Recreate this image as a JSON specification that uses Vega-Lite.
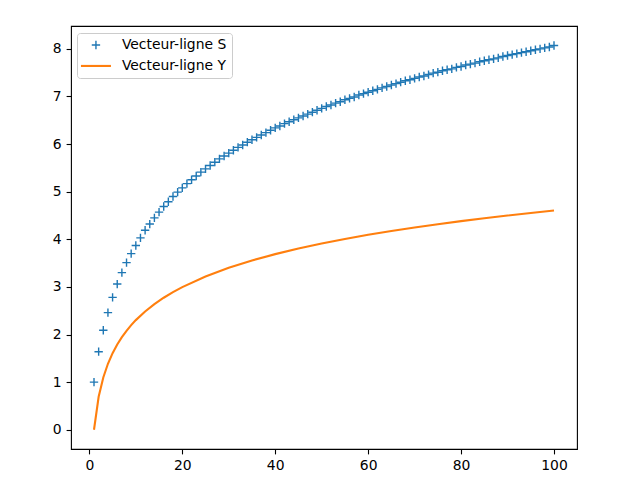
{
  "$schema": "https://vega.github.io/schema/vega-lite/v6.json",
  "width": 506,
  "height": 423,
  "autosize": {"type": "none"},
  "padding": {"left": 71, "top": 26, "right": 63, "bottom": 31},
  "config": {
    "font": "DejaVu Sans",
    "view": {"stroke": "black", "strokeWidth": 1.1},
    "axis": {
      "grid": false,
      "domain": false,
      "tickColor": "black",
      "tickSize": 4.9,
      "tickWidth": 1.1,
      "labelFont": "DejaVu Sans",
      "labelFontSize": 13.9,
      "labelColor": "black",
      "labelPadding": 4.9,
      "title": null
    },
    "legend": {
      "orient": "none",
      "legendX": 6,
      "legendY": 7,
      "padding": 5,
      "strokeColor": "#cccccc",
      "fillColor": "rgba(255,255,255,0.8)",
      "cornerRadius": 3,
      "labelFont": "DejaVu Sans",
      "labelFontSize": 13.9,
      "labelColor": "black",
      "symbolOffset": 7,
      "labelOffset": 19,
      "rowPadding": 6
    }
  },
  "datasets": {
    "S": [
      {"n": 1, "v": 1.0, "serie": "Vecteur-ligne S"},
      {"n": 2, "v": 1.64, "serie": "Vecteur-ligne S"},
      {"n": 3, "v": 2.09, "serie": "Vecteur-ligne S"},
      {"n": 4, "v": 2.46, "serie": "Vecteur-ligne S"},
      {"n": 5, "v": 2.78, "serie": "Vecteur-ligne S"},
      {"n": 6, "v": 3.06, "serie": "Vecteur-ligne S"},
      {"n": 7, "v": 3.3, "serie": "Vecteur-ligne S"},
      {"n": 8, "v": 3.51, "serie": "Vecteur-ligne S"},
      {"n": 9, "v": 3.7, "serie": "Vecteur-ligne S"},
      {"n": 10, "v": 3.87, "serie": "Vecteur-ligne S"},
      {"n": 11, "v": 4.03, "serie": "Vecteur-ligne S"},
      {"n": 12, "v": 4.19, "serie": "Vecteur-ligne S"},
      {"n": 13, "v": 4.32, "serie": "Vecteur-ligne S"},
      {"n": 14, "v": 4.45, "serie": "Vecteur-ligne S"},
      {"n": 15, "v": 4.57, "serie": "Vecteur-ligne S"},
      {"n": 16, "v": 4.69, "serie": "Vecteur-ligne S"},
      {"n": 17, "v": 4.79, "serie": "Vecteur-ligne S"},
      {"n": 18, "v": 4.9, "serie": "Vecteur-ligne S"},
      {"n": 19, "v": 4.99, "serie": "Vecteur-ligne S"},
      {"n": 20, "v": 5.08, "serie": "Vecteur-ligne S"},
      {"n": 21, "v": 5.17, "serie": "Vecteur-ligne S"},
      {"n": 22, "v": 5.25, "serie": "Vecteur-ligne S"},
      {"n": 23, "v": 5.33, "serie": "Vecteur-ligne S"},
      {"n": 24, "v": 5.41, "serie": "Vecteur-ligne S"},
      {"n": 25, "v": 5.48, "serie": "Vecteur-ligne S"},
      {"n": 26, "v": 5.55, "serie": "Vecteur-ligne S"},
      {"n": 27, "v": 5.62, "serie": "Vecteur-ligne S"},
      {"n": 28, "v": 5.69, "serie": "Vecteur-ligne S"},
      {"n": 29, "v": 5.75, "serie": "Vecteur-ligne S"},
      {"n": 30, "v": 5.81, "serie": "Vecteur-ligne S"},
      {"n": 31, "v": 5.87, "serie": "Vecteur-ligne S"},
      {"n": 32, "v": 5.93, "serie": "Vecteur-ligne S"},
      {"n": 33, "v": 5.98, "serie": "Vecteur-ligne S"},
      {"n": 34, "v": 6.04, "serie": "Vecteur-ligne S"},
      {"n": 35, "v": 6.09, "serie": "Vecteur-ligne S"},
      {"n": 36, "v": 6.14, "serie": "Vecteur-ligne S"},
      {"n": 37, "v": 6.19, "serie": "Vecteur-ligne S"},
      {"n": 38, "v": 6.24, "serie": "Vecteur-ligne S"},
      {"n": 39, "v": 6.29, "serie": "Vecteur-ligne S"},
      {"n": 40, "v": 6.34, "serie": "Vecteur-ligne S"},
      {"n": 41, "v": 6.38, "serie": "Vecteur-ligne S"},
      {"n": 42, "v": 6.43, "serie": "Vecteur-ligne S"},
      {"n": 43, "v": 6.47, "serie": "Vecteur-ligne S"},
      {"n": 44, "v": 6.51, "serie": "Vecteur-ligne S"},
      {"n": 45, "v": 6.55, "serie": "Vecteur-ligne S"},
      {"n": 46, "v": 6.59, "serie": "Vecteur-ligne S"},
      {"n": 47, "v": 6.63, "serie": "Vecteur-ligne S"},
      {"n": 48, "v": 6.67, "serie": "Vecteur-ligne S"},
      {"n": 49, "v": 6.71, "serie": "Vecteur-ligne S"},
      {"n": 50, "v": 6.75, "serie": "Vecteur-ligne S"},
      {"n": 51, "v": 6.79, "serie": "Vecteur-ligne S"},
      {"n": 52, "v": 6.82, "serie": "Vecteur-ligne S"},
      {"n": 53, "v": 6.86, "serie": "Vecteur-ligne S"},
      {"n": 54, "v": 6.89, "serie": "Vecteur-ligne S"},
      {"n": 55, "v": 6.93, "serie": "Vecteur-ligne S"},
      {"n": 56, "v": 6.96, "serie": "Vecteur-ligne S"},
      {"n": 57, "v": 6.99, "serie": "Vecteur-ligne S"},
      {"n": 58, "v": 7.03, "serie": "Vecteur-ligne S"},
      {"n": 59, "v": 7.06, "serie": "Vecteur-ligne S"},
      {"n": 60, "v": 7.09, "serie": "Vecteur-ligne S"},
      {"n": 61, "v": 7.12, "serie": "Vecteur-ligne S"},
      {"n": 62, "v": 7.15, "serie": "Vecteur-ligne S"},
      {"n": 63, "v": 7.18, "serie": "Vecteur-ligne S"},
      {"n": 64, "v": 7.21, "serie": "Vecteur-ligne S"},
      {"n": 65, "v": 7.24, "serie": "Vecteur-ligne S"},
      {"n": 66, "v": 7.27, "serie": "Vecteur-ligne S"},
      {"n": 67, "v": 7.3, "serie": "Vecteur-ligne S"},
      {"n": 68, "v": 7.33, "serie": "Vecteur-ligne S"},
      {"n": 69, "v": 7.35, "serie": "Vecteur-ligne S"},
      {"n": 70, "v": 7.38, "serie": "Vecteur-ligne S"},
      {"n": 71, "v": 7.41, "serie": "Vecteur-ligne S"},
      {"n": 72, "v": 7.43, "serie": "Vecteur-ligne S"},
      {"n": 73, "v": 7.46, "serie": "Vecteur-ligne S"},
      {"n": 74, "v": 7.49, "serie": "Vecteur-ligne S"},
      {"n": 75, "v": 7.51, "serie": "Vecteur-ligne S"},
      {"n": 76, "v": 7.54, "serie": "Vecteur-ligne S"},
      {"n": 77, "v": 7.56, "serie": "Vecteur-ligne S"},
      {"n": 78, "v": 7.58, "serie": "Vecteur-ligne S"},
      {"n": 79, "v": 7.61, "serie": "Vecteur-ligne S"},
      {"n": 80, "v": 7.63, "serie": "Vecteur-ligne S"},
      {"n": 81, "v": 7.66, "serie": "Vecteur-ligne S"},
      {"n": 82, "v": 7.68, "serie": "Vecteur-ligne S"},
      {"n": 83, "v": 7.7, "serie": "Vecteur-ligne S"},
      {"n": 84, "v": 7.73, "serie": "Vecteur-ligne S"},
      {"n": 85, "v": 7.75, "serie": "Vecteur-ligne S"},
      {"n": 86, "v": 7.77, "serie": "Vecteur-ligne S"},
      {"n": 87, "v": 7.79, "serie": "Vecteur-ligne S"},
      {"n": 88, "v": 7.81, "serie": "Vecteur-ligne S"},
      {"n": 89, "v": 7.84, "serie": "Vecteur-ligne S"},
      {"n": 90, "v": 7.86, "serie": "Vecteur-ligne S"},
      {"n": 91, "v": 7.88, "serie": "Vecteur-ligne S"},
      {"n": 92, "v": 7.9, "serie": "Vecteur-ligne S"},
      {"n": 93, "v": 7.92, "serie": "Vecteur-ligne S"},
      {"n": 94, "v": 7.94, "serie": "Vecteur-ligne S"},
      {"n": 95, "v": 7.96, "serie": "Vecteur-ligne S"},
      {"n": 96, "v": 7.98, "serie": "Vecteur-ligne S"},
      {"n": 97, "v": 8.0, "serie": "Vecteur-ligne S"},
      {"n": 98, "v": 8.02, "serie": "Vecteur-ligne S"},
      {"n": 99, "v": 8.04, "serie": "Vecteur-ligne S"},
      {"n": 100, "v": 8.07, "serie": "Vecteur-ligne S"}
    ],
    "Y": [
      {"n": 1, "v": 0.0, "serie": "Vecteur-ligne Y"},
      {"n": 2, "v": 0.693, "serie": "Vecteur-ligne Y"},
      {"n": 3, "v": 1.099, "serie": "Vecteur-ligne Y"},
      {"n": 4, "v": 1.386, "serie": "Vecteur-ligne Y"},
      {"n": 5, "v": 1.609, "serie": "Vecteur-ligne Y"},
      {"n": 6, "v": 1.792, "serie": "Vecteur-ligne Y"},
      {"n": 7, "v": 1.946, "serie": "Vecteur-ligne Y"},
      {"n": 8, "v": 2.079, "serie": "Vecteur-ligne Y"},
      {"n": 9, "v": 2.197, "serie": "Vecteur-ligne Y"},
      {"n": 10, "v": 2.303, "serie": "Vecteur-ligne Y"},
      {"n": 12, "v": 2.485, "serie": "Vecteur-ligne Y"},
      {"n": 14, "v": 2.639, "serie": "Vecteur-ligne Y"},
      {"n": 16, "v": 2.773, "serie": "Vecteur-ligne Y"},
      {"n": 18, "v": 2.89, "serie": "Vecteur-ligne Y"},
      {"n": 20, "v": 2.996, "serie": "Vecteur-ligne Y"},
      {"n": 25, "v": 3.219, "serie": "Vecteur-ligne Y"},
      {"n": 30, "v": 3.401, "serie": "Vecteur-ligne Y"},
      {"n": 35, "v": 3.555, "serie": "Vecteur-ligne Y"},
      {"n": 40, "v": 3.689, "serie": "Vecteur-ligne Y"},
      {"n": 45, "v": 3.807, "serie": "Vecteur-ligne Y"},
      {"n": 50, "v": 3.912, "serie": "Vecteur-ligne Y"},
      {"n": 55, "v": 4.007, "serie": "Vecteur-ligne Y"},
      {"n": 60, "v": 4.094, "serie": "Vecteur-ligne Y"},
      {"n": 65, "v": 4.174, "serie": "Vecteur-ligne Y"},
      {"n": 70, "v": 4.248, "serie": "Vecteur-ligne Y"},
      {"n": 75, "v": 4.317, "serie": "Vecteur-ligne Y"},
      {"n": 80, "v": 4.382, "serie": "Vecteur-ligne Y"},
      {"n": 85, "v": 4.443, "serie": "Vecteur-ligne Y"},
      {"n": 90, "v": 4.5, "serie": "Vecteur-ligne Y"},
      {"n": 95, "v": 4.554, "serie": "Vecteur-ligne Y"},
      {"n": 100, "v": 4.605, "serie": "Vecteur-ligne Y"}
    ]
  },
  "encoding": {
    "x": {
      "field": "n",
      "type": "quantitative",
      "scale": {"domain": [-3.95, 104.95], "nice": false, "zero": false},
      "axis": {"values": [0, 20, 40, 60, 80, 100]}
    },
    "y": {
      "field": "v",
      "type": "quantitative",
      "scale": {"domain": [-0.404, 8.48], "nice": false, "zero": false},
      "axis": {"values": [0, 1, 2, 3, 4, 5, 6, 7, 8]}
    },
    "color": {
      "field": "serie",
      "type": "nominal",
      "scale": {
        "domain": ["Vecteur-ligne S", "Vecteur-ligne Y"],
        "range": ["#1f77b4", "#ff7f0e"]
      },
      "legend": {
        "title": null,
        "encode": {
          "symbols": {
            "update": {
              "shape": {"signal": "datum.value === 'Vecteur-ligne S' ? 'M-1,0L1,0M0,-1L0,1' : 'stroke'"},
              "size": {"signal": "datum.value === 'Vecteur-ligne S' ? 70 : 900"},
              "strokeWidth": {"signal": "datum.value === 'Vecteur-ligne S' ? 1.4 : 2.1"},
              "fill": {"value": "transparent"}
            }
          }
        }
      }
    }
  },
  "layer": [
    {
      "data": {"name": "S"},
      "mark": {
        "type": "point",
        "shape": "M-1,0L1,0M0,-1L0,1",
        "filled": false,
        "size": 70,
        "strokeWidth": 1.4,
        "opacity": 1
      }
    },
    {
      "data": {"name": "Y"},
      "mark": {"type": "line", "strokeWidth": 2.1}
    }
  ]
}
